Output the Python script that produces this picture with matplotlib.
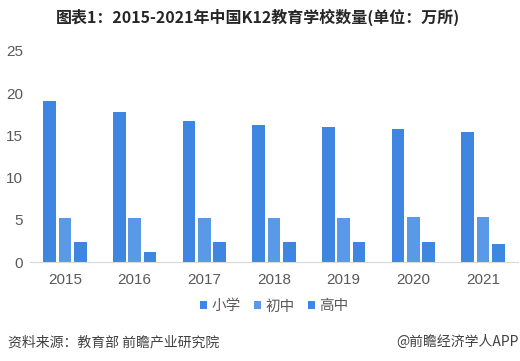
import numpy as np
import matplotlib
matplotlib.use('Agg')
from matplotlib import pyplot as plt

plt.rcParams['font.family'] = ['Noto Sans CJK SC', 'DejaVu Sans']

years = ['2015', '2016', '2017', '2018', '2019', '2020', '2021']
primary = [19.05, 17.76, 16.70, 16.18, 16.01, 15.80, 15.43]
junior = [5.24, 5.21, 5.19, 5.19, 5.24, 5.28, 5.29]
senior = [2.4, 1.2, 2.4, 2.4, 2.4, 2.4, 2.2]
series_names = ['小学', '初中', '高中']
colours = ['#3F86E2', '#5A98E8', '#3F86E2']

fig = plt.figure(figsize=(5.2, 3.61), dpi=100)
ax = fig.add_axes([0.058, 0.274, 0.938, 0.585])

x = np.arange(len(years))
width = 0.18
offset = 0.22
for i, (vals, name) in enumerate(zip([primary, junior, senior], series_names)):
  ax.bar(x + (i - 1) * offset, vals, width, color=colours[i], label=name)

ax.set_xlim(-0.5, len(years) - 0.5)
ax.set_ylim(0, 25)
ax.set_yticks([0, 5, 10, 15, 20, 25])
ax.set_xticks(x)
ax.set_xticklabels(years)
for side in ['top', 'right', 'left']:
  ax.spines[side].set_visible(False)
ax.spines['bottom'].set_color('#D9D9D9')
ax.tick_params(axis='both', length=0, labelsize=11, colors='#595959')
ax.tick_params(axis='x', pad=8)
ax.tick_params(axis='y', pad=5)
for lbl in ax.get_xticklabels() + ax.get_yticklabels():
  lbl.set_fontfamily(['Liberation Sans', 'DejaVu Sans'])

fig.text(0.497, 0.953, '图表1：2015-2021年中国K12教育学校数量(单位：万所)', ha='center', va='center',
         fontsize=11.5, fontweight='bold', color='#262626')

# legend
leg = ax.legend(loc='center', bbox_to_anchor=(0.5, -0.21), ncol=3, frameon=False,
                fontsize=10.5, handlelength=0.5, handleheight=0.5, handletextpad=0.3,
                columnspacing=0.9)
for t in leg.get_texts():
  t.set_color('#595959')

fig.text(0.015, 0.052, '资料来源：教育部 前瞻产业研究院', ha='left', va='center', fontsize=10, color='#404040')
fig.text(0.997, 0.052, '@前瞻经济学人APP', ha='right', va='center', fontsize=10, color='#404040')

fig.savefig('out.png', dpi=100)
